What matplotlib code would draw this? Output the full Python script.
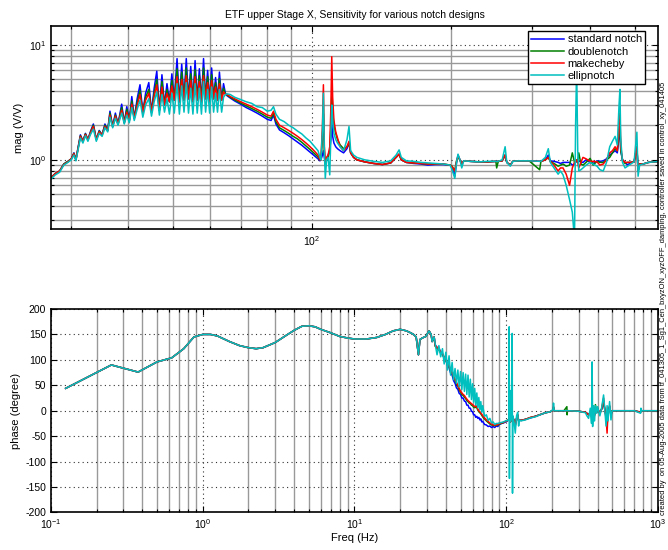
import numpy as np
from matplotlib import pyplot as plt
from matplotlib.ticker import NullFormatter, LogLocator

plt.rcParams['font.family'] = ['Liberation Sans', 'DejaVu Sans']
plt.rcParams['mathtext.default'] = 'regular'
plt.rcParams['axes.unicode_minus'] = False

# ---- magnitude data (27-570 Hz) ----
mag_freq_a = [27.2, 27.8, 28.4, 29.0, 29.6, 30.1, 30.5, 30.8, 31.1, 31.5,
              31.9, 32.3, 32.7, 33.1, 33.6, 34.1, 34.6, 35.1, 35.6, 36.1,
              36.5, 37.0, 37.5, 38.0, 38.7, 39.2, 39.7, 40.2, 40.7, 41.2,
              41.8, 42.4, 43.0, 43.6, 44.3, 44.9, 45.5, 46.1, 46.7, 47.3,
              47.9, 48.5, 49.1, 49.7, 50.3, 51.0, 51.6, 52.2, 52.8, 53.4,
              54.0, 54.6, 55.2, 55.8, 56.4, 57.0, 57.6, 58.2, 58.8, 59.4,
              60.0, 60.6, 61.2, 61.8, 62.4, 63.0, 63.7, 64.3, 64.9]
mag_freq_b = [65.5, 66.5, 68, 70, 72, 74, 76, 78, 80, 81.5, 82.5, 83.5,
              85, 87, 89, 91, 93, 95, 97, 99, 101, 103, 104]
mag_freq_c = [104.5, 105.3, 105.8, 106.3, 106.8, 107.5, 108.3, 109.2, 109.8, 110.3,
              110.8, 111.5, 112.5, 113.5, 115, 117, 119, 120.2, 121.2, 123,
              125, 130, 136, 142, 148, 152, 154.3, 156, 160, 166,
              172, 178, 185, 192, 199, 201, 203.7, 205.5, 207, 209,
              210.9, 213, 220, 230, 240, 250, 251, 253, 258, 261.8,
              264, 268.7, 272, 280, 295, 311, 313, 320, 324.7, 328,
              334, 341, 345, 349.4, 355, 361, 366, 370, 372, 374,
              376, 378, 382, 386, 392, 400, 406, 414, 420, 427,
              434, 441, 447, 453, 458, 462, 464, 466, 470, 476,
              482, 490, 498, 505, 508, 512, 521, 535, 550, 570]

mag_standard = [0.70, 0.76, 0.80, 0.92, 0.97, 1.02, 1.15, 1.0, 1.25, 1.65,
                1.45, 1.70, 1.50, 1.75, 2.05, 1.50, 1.80, 1.65, 2.05, 1.80,
                2.65, 1.95, 2.55, 2.05, 3.05, 2.10, 2.90, 2.20, 3.55, 2.30,
                3.40, 4.50, 2.60, 3.80, 4.70, 2.60, 4.20, 5.90, 2.70, 5.50,
                3.00, 4.60, 3.20, 5.60, 3.30, 7.60, 3.20, 6.80, 3.30, 7.60,
                3.40, 6.50, 3.20, 7.30, 3.30, 6.20, 3.20, 7.60, 3.40, 6.00,
                3.20, 6.30, 3.40, 5.20, 3.30, 5.80, 3.30, 4.60, 3.80,
                3.6, 3.45, 3.25, 3.05, 2.85, 2.7, 2.55, 2.4, 2.25, 2.2, 2.45, 2.05,
                1.82, 1.72, 1.62, 1.52, 1.43, 1.34, 1.25, 1.17, 1.09, 1.02, 0.98,
                1.0, 1.1, 1.2, 1.05, 0.95, 1.0, 1.1, 1.2, 1.5, 2.15,
                1.6, 1.4, 1.3, 1.25, 1.2, 1.15, 1.25, 1.4, 1.15, 1.05,
                1.0, 0.96, 0.93, 0.91, 0.94, 1.05, 1.12, 1.0, 0.95, 0.93,
                0.92, 0.9, 0.91, 0.91, 0.9, 0.85, 0.72, 0.95, 1.1, 1.0,
                0.92, 0.98, 0.97, 0.96, 0.96, 0.97, 0.97, 0.97, 0.98, 1.1,
                0.95, 0.9, 0.97, 0.98, 0.98, 0.97, 0.97, 1.0, 1.1, 0.98,
                0.97, 0.95, 0.93, 0.95, 0.95, 0.95, 0.9, 0.92, 0.95, 0.97,
                0.96, 0.98, 0.96, 0.95, 1.0, 0.95, 0.93, 0.98, 0.97, 0.98,
                1.02, 1.1, 1.15, 1.2, 1.15, 1.6, 1.9, 1.2, 1.0, 0.95,
                0.9, 0.95, 0.96, 1.3, 0.8, 0.92, 0.92, 0.95, 0.96, 0.97]
mag_double = [0.70, 0.76, 0.80, 0.92, 0.97, 1.02, 1.14, 1.0, 1.23, 1.62,
              1.45, 1.68, 1.50, 1.72, 2.00, 1.50, 1.78, 1.65, 2.00, 1.80,
              2.55, 1.95, 2.45, 2.05, 2.85, 2.10, 2.75, 2.20, 3.25, 2.30,
              3.15, 4.00, 2.60, 3.50, 4.10, 2.60, 3.80, 5.00, 2.70, 4.80,
              3.00, 4.10, 3.20, 4.90, 3.30, 6.20, 3.20, 5.80, 3.30, 6.30,
              3.40, 5.60, 3.20, 6.10, 3.30, 5.40, 3.20, 6.30, 3.40, 5.30,
              3.20, 5.50, 3.40, 4.70, 3.30, 5.10, 3.30, 4.20, 3.75,
              3.65, 3.5, 3.32, 3.12, 2.95, 2.8, 2.65, 2.5, 2.35, 2.3, 2.55, 2.15,
              1.9, 1.8, 1.7, 1.6, 1.52, 1.42, 1.32, 1.23, 1.14, 1.06, 1.0,
              1.0, 1.5, 2.5, 1.2, 0.9, 1.0, 1.05, 1.2, 1.9, 3.55,
              2.6, 2.0, 1.7, 1.5, 1.35, 1.25, 1.3, 1.4, 1.15, 1.05,
              1.0, 0.96, 0.93, 0.91, 0.94, 1.05, 1.12, 1.0, 0.95, 0.94,
              0.93, 0.92, 0.92, 0.92, 0.9, 0.88, 0.8, 0.98, 1.05, 1.0,
              0.92, 0.98, 0.97, 0.96, 0.96, 0.97, 0.85, 0.97, 0.98, 1.1,
              0.95, 0.9, 0.97, 0.98, 0.98, 0.82, 0.97, 1.0, 1.05, 0.97,
              0.93, 0.88, 0.9, 0.92, 0.88, 0.9, 1.15, 0.95, 0.95, 1.0,
              0.97, 1.15, 0.92, 0.9, 0.95, 1.03, 0.9, 0.97, 0.95, 0.95,
              1.0, 1.05, 1.15, 1.25, 1.2, 1.8, 2.0, 1.2, 1.0, 0.93,
              0.95, 0.95, 0.96, 1.3, 0.8, 0.92, 0.92, 0.95, 0.96, 0.97]
mag_cheby = [0.70, 0.76, 0.80, 0.91, 0.96, 1.02, 1.13, 1.0, 1.22, 1.60,
             1.45, 1.66, 1.50, 1.70, 1.95, 1.50, 1.75, 1.65, 1.95, 1.80,
             2.45, 1.95, 2.40, 2.05, 2.70, 2.10, 2.60, 2.20, 3.05, 2.30,
             2.95, 3.70, 2.60, 3.30, 3.80, 2.60, 3.55, 4.50, 2.70, 4.30,
             3.00, 3.80, 3.20, 4.40, 3.30, 5.30, 3.20, 5.00, 3.30, 5.40,
             3.40, 4.90, 3.20, 5.30, 3.30, 4.80, 3.20, 5.40, 3.40, 4.70,
             3.20, 4.90, 3.40, 4.30, 3.30, 4.60, 3.30, 3.90, 3.70,
             3.7, 3.55, 3.4, 3.2, 3.05, 2.9, 2.75, 2.6, 2.45, 2.4, 2.65, 2.25,
             2.0, 1.9, 1.8, 1.7, 1.6, 1.5, 1.4, 1.3, 1.2, 1.1, 1.0,
             1.0, 2.0, 4.5, 1.3, 0.95, 1.05, 1.1, 1.3, 2.8, 7.9,
             3.5, 2.2, 1.75, 1.55, 1.3, 1.2, 1.3, 1.45, 1.15, 1.05,
             1.0, 0.96, 0.93, 0.91, 0.94, 1.05, 1.12, 1.0, 0.95, 0.94,
             0.93, 0.92, 0.92, 0.92, 0.9, 0.87, 0.8, 0.97, 1.08, 1.0,
             0.92, 0.98, 0.97, 0.96, 0.96, 0.97, 0.97, 0.97, 0.98, 1.1,
             0.95, 0.9, 0.97, 0.98, 0.98, 0.97, 0.97, 1.0, 1.05, 0.97,
             0.9, 0.8, 0.85, 0.85, 0.75, 0.6, 0.85, 0.95, 0.97, 1.0,
             0.95, 0.85, 0.95, 1.05, 1.02, 0.97, 0.97, 0.96, 0.9, 0.92,
             1.0, 1.15, 1.2, 1.3, 1.2, 2.0, 2.55, 1.3, 1.0, 0.95,
             0.95, 0.95, 0.96, 1.3, 0.8, 0.92, 0.92, 0.95, 0.96, 0.97]
mag_ellip = [0.68, 0.74, 0.78, 0.90, 0.95, 1.00, 1.10, 0.98, 1.20, 1.55,
             1.40, 1.62, 1.45, 1.65, 1.85, 1.45, 1.70, 1.60, 1.90, 1.75,
             2.35, 1.90, 2.30, 2.00, 2.55, 2.05, 2.45, 2.10, 2.85, 2.20,
             2.75, 3.30, 2.35, 3.00, 3.40, 2.40, 3.20, 3.90, 2.45, 3.70,
             2.60, 3.40, 2.50, 3.80, 2.55, 4.60, 2.50, 4.40, 2.60, 4.70,
             2.55, 4.20, 2.50, 4.60, 2.55, 4.20, 2.50, 4.80, 2.60, 4.10,
             2.55, 4.30, 2.60, 3.80, 2.60, 4.10, 2.60, 3.50, 3.70,
             3.75, 3.7, 3.5, 3.35, 3.2, 3.1, 2.9, 2.85, 2.65, 2.7, 2.9, 2.5,
             2.25, 2.15, 2.0, 1.9, 1.78, 1.68, 1.55, 1.45, 1.32, 1.2, 1.05,
             1.0, 1.8, 3.8, 1.2, 0.69, 1.0, 1.05, 0.74, 1.6, 3.0,
             2.2, 1.7, 1.5, 1.4, 1.3, 1.2, 1.5, 1.95, 1.2, 1.1,
             1.05, 1.0, 0.97, 0.95, 0.98, 1.1, 1.22, 1.05, 0.98, 0.97,
             0.95, 0.94, 0.93, 0.92, 0.9, 0.82, 0.69, 0.95, 1.12, 1.0,
             0.85, 0.98, 0.97, 0.96, 0.97, 0.97, 0.97, 0.97, 1.0, 1.3,
             0.95, 0.88, 0.97, 0.98, 0.98, 0.97, 0.97, 1.05, 1.25, 0.95,
             0.85, 0.75, 0.8, 0.74, 0.6, 0.45, 0.35, 0.2, 2.0, 6.5,
             1.2, 0.8, 0.82, 0.85, 0.9, 0.95, 0.92, 0.88, 0.82, 0.8,
             0.95, 1.3, 1.45, 1.6, 1.35, 3.0, 4.1, 1.5, 0.95, 0.85,
             0.88, 0.92, 0.96, 1.74, 0.72, 0.9, 0.92, 0.95, 0.96, 0.97]

# ---- phase data (0.125-1000 Hz) ----
phase_freq_low = [0.125, 0.25, 0.375, 0.5, 0.625, 0.75, 0.875, 1.0, 1.125, 1.25,
                  1.5, 1.75, 2.0, 2.25, 2.5, 3.0, 3.5, 4.0, 4.5, 5.0,
                  5.5, 6.0, 7.0, 8.0, 9.0, 10.0, 12.0, 14.0, 16.0, 18.0,
                  20.0, 22.0, 23.5, 24.5, 25.5, 26.4, 27.0, 28.0, 29.5, 31.0,
                  32.0, 32.5, 33.5]
phase_low = [44, 90, 76, 96, 104, 122, 145, 150, 150, 147,
             136, 128, 124, 122, 124, 134, 147, 158, 166, 167,
             165, 160, 153, 146, 143, 141, 141, 144, 150, 157,
             160, 157, 153, 150, 145, 110, 140, 143, 146, 157,
             150, 136, 145]
phase_freq_band = [34, 35, 36, 37, 38, 39, 40, 41, 42, 43,
                   44, 45, 46, 47, 48, 49, 50, 51, 52, 53,
                   54, 55, 56, 57, 58, 59, 60, 61, 62, 63,
                   64, 65, 66, 67, 68, 69, 70, 72, 74, 76,
                   78, 80, 82, 84, 86, 88, 90, 93, 96, 99,
                   102, 104]
phase_freq_high = [104.6, 105.0, 105.5, 106.5, 108.0, 109.5, 110.0, 110.5, 111.5, 113.0,
                   114.7, 117.0, 119.0, 120.7, 122.0, 125.0, 133.5, 145.0, 155.5, 170.0,
                   181.0, 195.0, 203.0, 205.0, 207.0, 216.0, 240.0, 251.0, 252.0, 253.0,
                   258.0, 300.0, 333.0, 340.0, 349.0, 358.0, 365.0, 368.0, 371.0, 376.0,
                   382.0, 387.0, 395.0, 400.0, 406.0, 414.0, 425.0, 438.0, 445.0, 455.0,
                   462.0, 468.0, 480.0, 490.0, 498.0, 503.0, 538.0, 700.0, 768.0, 772.0,
                   776.0, 1000.0]

phase_standard = [130, 124, 123, 115, 112, 103, 100, 89, 85, 74,
                  70, 59, 54, 45, 42, 34, 32, 25, 25, 19,
                  18, 11, 11, 5, 5, -1, -2, -8, -8, -13,
                  -11, -15, -13, -18, -16, -22, -21, -27, -28, -31,
                  -30, -33, -31, -33, -30, -31, -27, -25, -24, -22,
                  -20, -18,
                  -18, -16, -20, -22, -18, -16, -20, -18, -16, -20,
                  -28, -15, -8, -20, -18, -19, -17, -14, -11, -7,
                  -4, -2, 1, 6, 0, 0, 0, 0, 0, 0,
                  0, -1, -3, -5, -8, -3, -10, 15, -12, 5,
                  -8, 5, -3, 5, 0, -5, 3, 15, 5, -10,
                  -25, -5, 8, -8, 0, 0, 0, 0, -3, 3,
                  0, 0]
phase_double = [127, 122, 120, 113, 111, 103, 99, 91, 87, 78,
                74, 65, 60, 53, 48, 41, 36, 32, 30, 27,
                24, 20, 18, 15, 14, 11, 10, 7, 6, 7,
                6, 1, -2, -4, -6, -9, -12, -16, -20, -23,
                -26, -28, -29, -29, -29, -28, -26, -25, -23, -21,
                -19, -17,
                -18, -16, -20, -22, -18, -16, -20, -18, -16, -20,
                -28, -15, -8, -20, -18, -19, -17, -13, -11, -7,
                -4, -2, 1, 6, 0, 0, 0, 8, -8, 0,
                0, -1, -3, -5, -8, -3, -10, 15, -12, 5,
                -8, 12, -3, 5, 0, -5, 3, 20, 5, -12,
                -30, -5, 8, -8, 0, 0, 0, 0, -3, 3,
                0, 0]
phase_cheby = [128, 125, 121, 116, 112, 106, 100, 94, 88, 81,
               75, 68, 62, 56, 50, 44, 38, 35, 32, 30,
               26, 23, 20, 18, 16, 14, 12, 10, 8, 10,
               8, 3, 0, -2, -4, -7, -10, -14, -18, -21,
               -24, -26, -28, -28, -28, -27, -25, -24, -23, -21,
               -19, -17,
               -17, -15, -20, -22, -18, -15, -20, -18, -16, -20,
               -30, -15, -8, -20, -18, -19, -17, -13, -11, -7,
               -4, -2, 1, 8, 0, 0, 0, 0, 0, 0,
               0, -1, -3, -5, -8, -3, -12, 20, -15, 5,
               -10, 5, -3, 5, 0, -5, 3, 25, 5, -15,
               -44, -5, 10, -10, 0, 0, 0, 0, -3, 3,
               0, 0]
phase_ellip = [132, 110, 128, 106, 122, 92, 115, 80, 108, 70,
               95, 61, 83, 54, 80, 47, 77, 42, 75, 38,
               72, 32, 70, 27, 62, 22, 53, 17, 44, 11,
               35, 6, 26, 2, 18, -3, 10, -11, -8, -19,
               -15, -24, -22, -27, -25, -25, -24, -23, -22, -20,
               -19, -17,
               165, -133, 40, -20, -15, 152, -162, -10, -15, -25,
               -44, -10, -3, -30, -18, -20, -18, -14, -12, -7,
               -4, -2, 2, 15, 0, 0, 0, 0, 0, 0,
               0, -1, -4, -10, -15, 5, -25, 96, -31, 10,
               -20, 10, -5, 8, 0, -10, 5, 31, 5, -30,
               10, -20, 18, -18, 0, 0, 0, 0, -5, 5,
               0, 0]

names = ['standard notch', 'doublenotch', 'makecheby', 'ellipnotch']
colors = ['#0000ff', '#008000', '#ff0000', '#00bfbf']

mag_freq = mag_freq_a + mag_freq_b + mag_freq_c
phase_freq = phase_freq_low + phase_freq_band + phase_freq_high
mags = [mag_standard, mag_double, mag_cheby, mag_ellip]
phases = [phase_low + p for p in [phase_standard, phase_double, phase_cheby, phase_ellip]]

fig = plt.figure(figsize=(6.68, 5.5), dpi=100)
ax1 = fig.add_axes([0.0763, 0.5836, 0.9087, 0.3691])
ax2 = fig.add_axes([0.0763, 0.0682, 0.9087, 0.3700])

for m, p, name, c in zip(mags, phases, names, colors):
    ax1.plot(mag_freq, m, color=c, lw=1.1, label=name)
    ax2.plot(phase_freq, p, color=c, lw=1.1)

ax1.set_xscale('log')
ax1.set_yscale('log')
ax1.set_xlim(27.2, 561)
ax1.set_ylim(0.25, 14.6)
ax2.set_xscale('log')
ax2.set_xlim(0.1, 1000)
ax2.set_ylim(-200, 200)
ax2.set_yticks(np.arange(-200, 201, 50))

for ax in (ax1, ax2):
    ax.xaxis.set_minor_locator(LogLocator(base=10, subs=np.arange(2, 10)))
    ax.xaxis.set_minor_formatter(NullFormatter())
    ax.grid(True, which='major', color='#333333', linestyle=(0, (1, 3)), lw=0.8)
    ax.grid(True, which='minor', color='#999999', linestyle='-', lw=1.0)
    ax.set_axisbelow(True)
    ax.tick_params(which='both', direction='in', top=True, right=True,
                   labelsize=7.5, length=4, width=0.8)
    ax.tick_params(which='minor', length=2.5)
    for s in ax.spines.values():
        s.set_linewidth(1.2)
ax1.yaxis.set_minor_locator(LogLocator(base=10, subs=np.arange(2, 10)))
ax1.yaxis.set_minor_formatter(NullFormatter())
ax2.grid(False, axis='y', which='minor')

ax1.set_title('ETF upper Stage X, Sensitivity for various notch designs', fontsize=7.5, pad=6)
ax1.set_ylabel('mag (V/V)', fontsize=8)
ax2.set_ylabel('phase (degree)', fontsize=8)
ax1.yaxis.set_label_coords(-0.045, 0.5)
ax2.yaxis.set_label_coords(-0.05, 0.5)
ax2.set_xlabel('Freq (Hz)', fontsize=8, labelpad=1)

leg = ax1.legend(loc='upper right', bbox_to_anchor=(0.979, 0.975), fontsize=8,
                 fancybox=False, framealpha=1, edgecolor='black',
                 handlelength=3.0, borderpad=0.3, labelspacing=0.2, handletextpad=0.3,
                 borderaxespad=0)
leg.get_frame().set_linewidth(1.0)

fig.text(0.9935, 0.064, 'created by  on 05-Aug-2005 data from tf_041305_1_Sg1_Cen_bxyzON_xyzOFF_damping, '
         'controller saved in control_xy_041405',
         rotation=90, fontsize=5.4, ha='center', va='bottom')

fig.savefig('out.png', dpi=100)
